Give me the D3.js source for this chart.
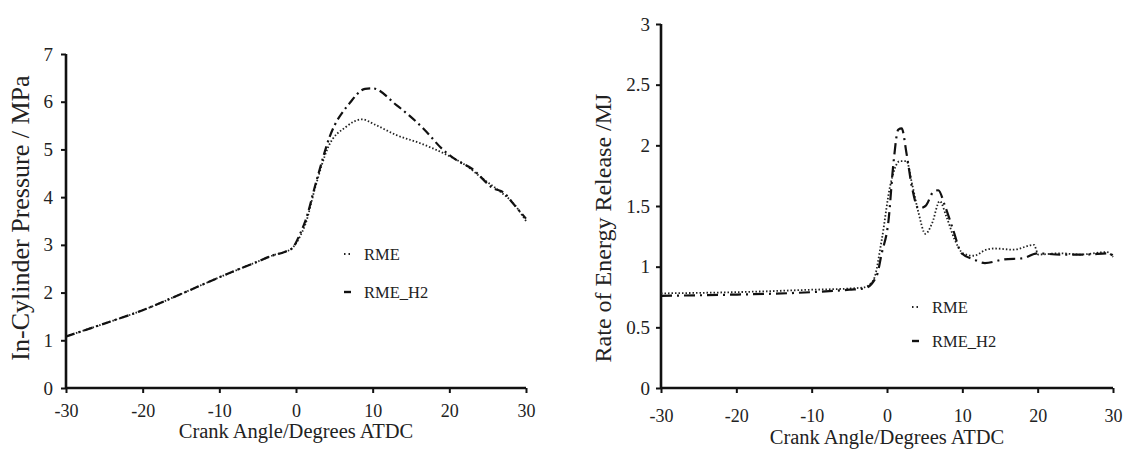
<!DOCTYPE html>
<html>
<head>
<meta charset="utf-8">
<script src="https://cdn.jsdelivr.net/npm/d3@7"></script>
<style>
  body { margin: 0; background: #fff; }
  svg { display: block; font-family: "Liberation Serif", "Times New Roman", serif; }
</style>
</head>
<body>
<div id="chart"></div>
<script>
// crank angle ticks (shared)
const xTicks = [-30, -20, -10, 0, 10, 20, 30];

// in-cylinder pressure, MPa
const pAngle   = [-30, -25, -20, -15, -10, -5, -3, -1.5, -0.5, 0, 0.5, 1.2, 2.5, 4.2, 6.5, 8.6, 10.3, 13.1, 16.2, 19.5, 22.3, 24.0, 26.6, 28.3, 30];
const pRME     = [1.08, 1.35, 1.63, 1.97, 2.32, 2.65, 2.78, 2.85, 2.93, 3.03, 3.17, 3.42, 4.2, 5.05, 5.47, 5.63, 5.52, 5.3, 5.13, 4.9, 4.65, 4.43, 4.12, 3.88, 3.5];
const pAngleH2 = [-30, -25, -20, -15, -10, -5, -3, -1.5, -0.5, 0, 0.5, 1.2, 2.7, 4.4, 7.0, 9.0, 10.0, 13.1, 16.6, 19.2, 20.9, 22.9, 25.7, 27.2, 28.3, 30];
const pRME_H2  = [1.08, 1.35, 1.63, 1.97, 2.32, 2.65, 2.78, 2.85, 2.93, 3.05, 3.22, 3.49, 4.36, 5.27, 5.97, 6.27, 6.28, 5.93, 5.44, 4.99, 4.78, 4.6, 4.19, 4.08, 3.87, 3.55];
const pTicks = [0, 1, 2, 3, 4, 5, 6, 7];

// rate of energy release, MJ
const eAngle   = [-30, -20, -10, -5, -3, -1.8, -0.7, 0.4, 1.7, 2.6, 3.3, 4.2, 5.1, 6.0, 7.0, 7.9, 9.0, 10.1, 11.5, 13.2, 14.2, 16.8, 19.5, 20.1, 23.0, 25.6, 29.2, 30];
const eRME     = [0.78, 0.79, 0.81, 0.82, 0.83, 0.89, 1.22, 1.66, 1.87, 1.87, 1.69, 1.44, 1.27, 1.36, 1.54, 1.41, 1.22, 1.11, 1.09, 1.14, 1.15, 1.14, 1.18, 1.1, 1.11, 1.1, 1.12, 1.08];
const eAngleH2 = [-30, -20, -10, -5, -3, -1.4, -0.7, 0.2, 0.85, 1.5, 1.95, 2.6, 3.3, 4.2, 5.1, 6.2, 6.8, 7.7, 8.8, 9.9, 11.5, 13.0, 15.5, 18.1, 19.9, 23.0, 26.5, 29.4, 30];
const eRME_H2  = [0.76, 0.77, 0.79, 0.81, 0.82, 0.92, 1.11, 1.38, 1.85, 2.13, 2.14, 1.93, 1.66, 1.48, 1.5, 1.62, 1.63, 1.5, 1.3, 1.11, 1.06, 1.03, 1.06, 1.07, 1.11, 1.1, 1.1, 1.11, 1.09];
const eTicks = [0, 0.5, 1, 1.5, 2, 2.5, 3];

const seriesNames = ["RME", "RME_H2"];

const W = 1136, H = 451;
const svg = d3.select("#chart").append("svg")
  .attr("width", W).attr("height", H)
  .attr("viewBox", [0, 0, W, H]);

function panel(opt) {
  const x = d3.scaleLinear().domain([-30, 30]).range([opt.x0, opt.x1]);
  const y = d3.scaleLinear().domain(opt.yDomain).range([388, opt.yTop]);

  const g = svg.append("g");

  // x axis
  const xa = g.append("g").attr("transform", "translate(0,388)")
    .call(d3.axisBottom(x).tickValues(xTicks).tickSize(5).tickPadding(opt.xPad).tickFormat(d => String(d)));
  // y axis
  const ya = g.append("g").attr("transform", `translate(${opt.x0},0)`)
    .call(d3.axisLeft(y).tickValues(opt.yTicks).tickSize(5).tickPadding(opt.yPad).tickFormat(d => String(d)));

  [xa, ya].forEach(a => {
    a.attr("font-family", null);
    a.select(".domain").attr("stroke", "#111").attr("stroke-width", 2.6);
    a.selectAll(".tick line").attr("stroke", "#111").attr("stroke-width", 2);
  });
  xa.selectAll(".tick text").attr("fill", "#222").style("font-size", "18px");
  ya.selectAll(".tick text").attr("fill", "#222").style("font-size", "19px");
  xa.select(".domain").attr("d", `M${opt.x0},0H${opt.x1}`);
  ya.select(".domain").attr("d", `M0,${y(opt.yDomain[1])}V388`);

  const line = (xs, ys) => d3.line()
    .x((d, i) => x(xs[i]))
    .y(d => y(d))
    .curve(d3.curveMonotoneX)(ys);

  g.append("path").attr("d", line(opt.xsA, opt.ysA))
    .attr("fill", "none").attr("stroke", "#222").attr("stroke-width", 1.8)
    .attr("stroke-dasharray", "1.5,2");
  g.append("path").attr("d", line(opt.xsB, opt.ysB))
    .attr("fill", "none").attr("stroke", "#111").attr("stroke-width", 2.2)
    .attr("stroke-dasharray", opt.dashB);

  // axis titles
  g.append("text")
    .attr("x", (opt.x0 + opt.x1) / 2).attr("y", opt.xTitleY)
    .attr("text-anchor", "middle").style("font-size", "20.5px").attr("fill", "#222")
    .text("Crank Angle/Degrees ATDC");
  g.append("text")
    .attr("transform", `translate(${opt.yTitleX},${opt.yTitleC}) rotate(-90)`)
    .attr("text-anchor", "middle").attr("dy", "0.35em")
    .style("font-size", opt.yTitleSize).attr("fill", "#222")
    .text(opt.yTitle);

  // legend
  const lg = g.append("g").attr("transform", `translate(${opt.legX},${opt.legY})`);
  seriesNames.forEach((name, i) => {
    const row = lg.append("g").attr("transform", `translate(0,${i * opt.legGap})`);
    if (i === 0) {
      row.append("line").attr("x1", 0).attr("x2", 7).attr("y1", 0).attr("y2", 0)
        .attr("stroke", "#222").attr("stroke-width", 1.8).attr("stroke-dasharray", "1.5,3");
    } else {
      row.append("line").attr("x1", 0).attr("x2", 7).attr("y1", 0).attr("y2", 0)
        .attr("stroke", "#111").attr("stroke-width", 2.4);
    }
    row.append("text").attr("x", 20).attr("y", 6)
      .style("font-size", "16.5px").attr("fill", "#222").text(name);
  });
}

panel({
  x0: 66, x1: 526, yDomain: [0, 7], yTop: 54, yTicks: pTicks,
  xsA: pAngle, ysA: pRME, xsB: pAngleH2, ysB: pRME_H2,
  dashB: "9,4,2,4",
  xPad: 11, yPad: 8, xTitleY: 438,
  yTitle: "In-Cylinder Pressure / MPa", yTitleSize: "26px", yTitleX: 20, yTitleC: 218,
  legX: 344, legY: 254, legGap: 38
});

panel({
  x0: 661, x1: 1113, yDomain: [0, 3], yTop: 24, yTicks: eTicks,
  xsA: eAngle, ysA: eRME, xsB: eAngleH2, ysB: eRME_H2,
  dashB: "11,5,2,5",
  xPad: 16, yPad: 6, xTitleY: 444,
  yTitle: "Rate of Energy Release /MJ", yTitleSize: "24px", yTitleX: 603, yTitleC: 228,
  legX: 912, legY: 307, legGap: 34
});
</script>
</body>
</html>
